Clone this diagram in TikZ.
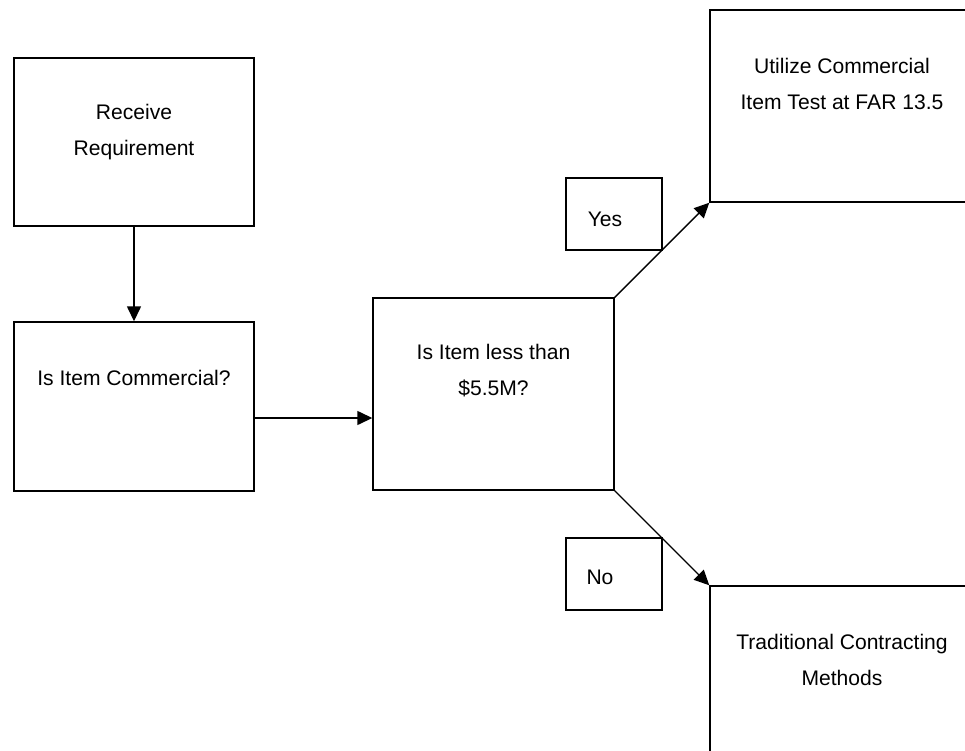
\documentclass[tikz,border=0pt]{standalone}
\usepackage{fontspec}
\setmainfont{Liberation Sans}
\usetikzlibrary{arrows.meta,calc}
\begin{document}
\begin{tikzpicture}[>={Triangle[length=3mm,width=2.8mm]}, line width=.8pt,
    box/.style={draw, inner sep=0pt, minimum width=4.8cm, minimum height=3.36cm},
    tag/.style={draw, inner sep=0pt, minimum width=1.92cm, minimum height=1.44cm},
    txt/.style={align=center, inner sep=0pt, font=\fontsize{12}{20.5}\selectfont}]
    \useasboundingbox (0,0) rectangle (19.3,-15);
    \clip (0,0) rectangle (19.3,-15);

    \node[box] (recv) at (2.68,-2.84) {};
    \node[box, minimum height=3.38cm] (comm) at (2.68,-8.13) {};
    \node[box, minimum width=4.82cm, minimum height=3.84cm] (less) at (9.87,-7.88) {};
    \node[box, minimum width=5.8cm, minimum height=3.84cm] (util) at (17.1,-2.12) {};
    \node[box, minimum width=5.8cm, minimum height=4.28cm] (trad) at (17.1,-13.86) {};
    \node[tag] (yes) at (12.28,-4.28) {};
    \node[tag] (no) at (12.28,-11.48) {};

    \node[txt] (recvt) at (2.68,-2.64) {Receive\\Requirement};
    \node[txt] (commt) at (2.68,-7.56) {Is Item Commercial?};
    \node[txt] (lesst) at (9.87,-7.42) {Is Item less than\\\$5.5M?};
    \node[txt] (utilt) at (16.84,-1.67) {Utilize Commercial\\Item Test at FAR 13.5};
    \node[txt] (tradt) at (16.84,-13.2) {Traditional Contracting\\Methods};
    \node[txt] (yest) at (12.1,-4.38) {Yes};
    \node[txt] (not) at (12.0,-11.54) {No};

    \draw[->] (recv.south)--(comm.north);
    \coordinate (c1) at ($(comm.east)+(0,-.23)$);
    \draw[->] (c1)--(c1-|less.west);
    \draw[->] (less.north east)--(util.south west);
    \draw[->] (less.south east)--(trad.north west);

\end{tikzpicture}
\end{document}
